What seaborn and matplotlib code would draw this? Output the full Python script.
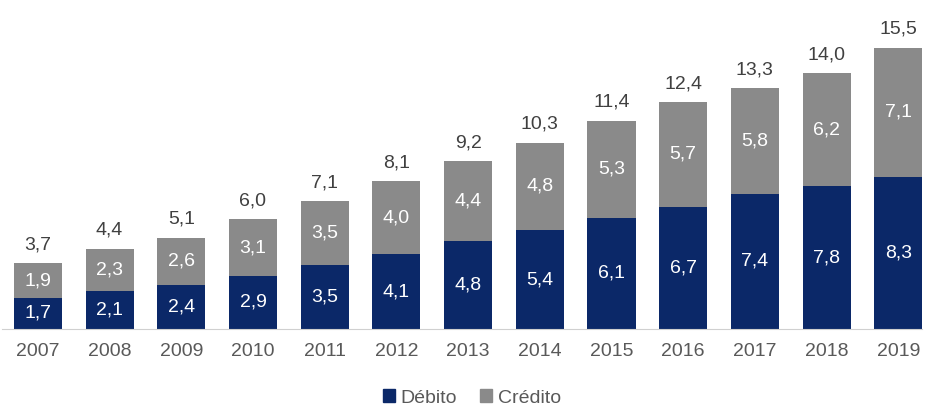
import pandas as pd
import seaborn as sns
import matplotlib.pyplot as plt
from matplotlib.patches import Patch

# values
years = ["2007", "2008", "2009", "2010", "2011", "2012", "2013",
         "2014", "2015", "2016", "2017", "2018", "2019"]
debito = [1.7, 2.1, 2.4, 2.9, 3.5, 4.1, 4.8, 5.4, 6.1, 6.7, 7.4, 7.8, 8.3]
credito = [1.9, 2.3, 2.6, 3.1, 3.5, 4.0, 4.4, 4.8, 5.3, 5.7, 5.8, 6.2, 7.1]
totals = [3.7, 4.4, 5.1, 6.0, 7.1, 8.1, 9.2, 10.3, 11.4, 12.4, 13.3, 14.0, 15.5]

navy = "#0b2868"
grey = "#8a8a8a"

def fmt(v):
  return f"{v:.1f}".replace(".", ",")

df = pd.DataFrame({"ano": years, "debito": debito, "credito": credito})

sns.set_style("white")
plt.rcParams["font.family"] = ["Liberation Sans", "DejaVu Sans"]

fig = plt.figure(figsize=(9.25, 4.07), dpi=100)
ax = fig.add_axes([2 / 925, 78 / 407, 920 / 925, 329 / 407])

sns.barplot(data=df, x="ano", y="debito", color=navy, width=0.67, ax=ax,
            saturation=1, order=years, linewidth=0)
sns.barplot(data=df, x="ano", y="credito", color=grey, width=0.67, ax=ax,
            saturation=1, order=years, bottom=df["debito"], linewidth=0)

# value labels inside the segments and totals on top
for i in range(len(years)):
  ax.text(i, debito[i] / 2, fmt(debito[i]), ha="center", va="center",
          color="white", fontsize=14)
  ax.text(i, debito[i] + credito[i] / 2, fmt(credito[i]), ha="center",
          va="center", color="white", fontsize=14)
  ax.annotate(fmt(totals[i]), (i, debito[i] + credito[i]), xytext=(0, 7),
              textcoords="offset points", ha="center", va="bottom",
              color="#404040", fontsize=14)

ax.set_xlim(-0.5, 12.33)
ax.set_ylim(0, 18.0)
ax.set_xlabel("")
ax.set_ylabel("")
ax.set_yticks([])
ax.tick_params(axis="x", length=0, labelsize=14, labelcolor="#595959", pad=10)
for s in ["top", "right", "left"]:
  ax.spines[s].set_visible(False)
ax.spines["bottom"].set_color("#d0d0d0")

handles = [Patch(color=navy, label="Débito"), Patch(color=grey, label="Crédito")]
fig.legend(handles=handles, loc="center", bbox_to_anchor=(472 / 925, 1 - 398 / 407),
           ncol=2, frameon=False, fontsize=14, handlelength=0.6, handleheight=0.6,
           handletextpad=0.3, columnspacing=1.2, labelcolor="#595959")

fig.savefig("out.png", dpi=100)
